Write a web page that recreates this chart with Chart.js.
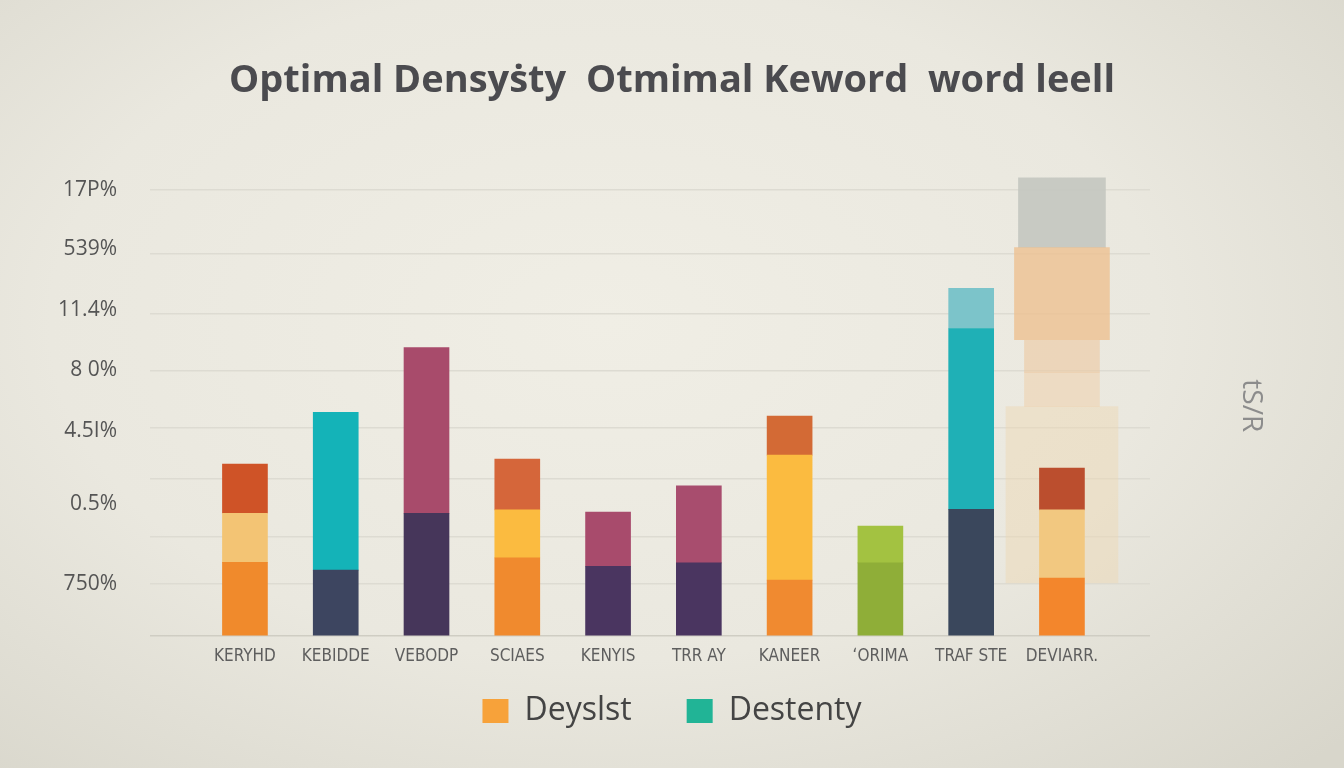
<!DOCTYPE html>
<html>
<head>
<meta charset="utf-8">
<script src="https://cdn.jsdelivr.net/npm/chart.js@4.4.1/dist/chart.umd.min.js"></script>
<style>
  html, body { margin: 0; padding: 0; }
  body {
    width: 1344px; height: 768px; overflow: hidden;
    background: radial-gradient(ellipse 75% 80% at 45% 42%, #f0eee5 0%, #eae8df 55%, #d8d6cb 100%);
  }
  #wrap { position: relative; width: 1344px; height: 768px; }
</style>
</head>
<body>
<div id="wrap"><canvas id="chart"></canvas></div>
<script>
// ── data ──
const CATEGORIES = ['KERYHD', 'KEBIDDE', 'VEBODP', 'SCIAES', 'KENYIS', 'TRR AY', 'KANEER', '\u02BBORIMA', 'TRAF STE', 'DEVIARR.'];
const SEG_BOTTOM = [1.32, 1.18, 2.20, 1.40, 1.25, 1.31, 1.00, 1.31, 2.27, 1.04];
const SEG_MIDDLE = [0.88, 2.83, 2.97, 0.86, 0.97, 1.38, 2.24, 0.66, 3.24, 1.22];
const SEG_TOP    = [0.88, null, null, 0.91, null, null, 0.70, null, 0.72, 0.75];
// faded blocks behind the last bar: [from, to]
const GHOST_RANGES = [[0.95, 4.11], [4.11, 4.72], [4.72, 5.31], [5.31, 6.96], [6.96, 8.21]];
const Y_TICK_VALUES = [8.0, 6.93, 5.85, 4.76, 3.67, 2.36, 0.93];
const Y_TICK_LABELS = ['17P%', '539%', '11.4%', '8 0%', '4.5I%', '0.5%', '750%'];
const GRID_VALUES = [0, 0.93, 1.77, 2.81, 3.74, 4.76, 5.78, 6.85, 8.0];
const LEGEND_LABELS = ['Deyslst', 'Destenty'];
const TITLE = 'Optimal Densy\u1E61ty  Otmimal Keword  word leell';
const SIDE_LABEL = 'tS/R';

// ── styles ──
const COL_BOTTOM = ['#f08a2c', '#3d4560', '#46365a', '#f08a2e', '#4a3560', '#4a3560', '#f08a30', '#8fae38', '#3a475c', '#f3862c'];
const COL_MIDDLE = ['#f3c474', '#14b3b8', '#a84b6b', '#fbbb40', '#a84b6c', '#a84d6e', '#fbbb40', '#a3c241', '#1fb0b6', '#f2c880'];
const COL_TOP    = ['#cf5327', null, null, '#d5663a', null, null, '#d36a35', null, '#7cc4ca', '#bb4e2e'];
const GHOST_COLORS = ['rgba(238,214,178,0.45)', 'rgba(238,208,172,0.55)', 'rgba(236,200,160,0.6)', 'rgba(238,192,145,0.8)', 'rgba(196,198,192,0.9)'];
const GHOST_WIDTHS = [112, 75, 75, 95, 87];
const LEGEND_COLORS = ['#f7a23a', '#21b496'];

const X_MIN = -1.046, X_MAX = 9.97, Y_MAX = 8.25;

const toPoints = arr => arr.map((v, i) => ({ x: i, y: v }));

const mainSets = [SEG_BOTTOM, SEG_MIDDLE, SEG_TOP].map((vals, k) => ({
  label: 'seg' + k,
  data: toPoints(vals),
  backgroundColor: [COL_BOTTOM, COL_MIDDLE, COL_TOP][k],
  barThickness: 45,
  grouped: false,
  xAxisID: 'x', yAxisID: 'y',
  order: 1
}));

const ghostSets = GHOST_RANGES.map((r, k) => ({
  label: 'ghost' + k,
  data: [{ x: CATEGORIES.length - 1, y: r }],
  backgroundColor: GHOST_COLORS[k],
  barThickness: GHOST_WIDTHS[k],
  grouped: false,
  xAxisID: 'x2', yAxisID: 'y2',
  order: 5
}));

new Chart(document.getElementById('chart'), {
  type: 'bar',
  data: { datasets: [...mainSets, ...ghostSets] },
  options: {
    responsive: true,
    maintainAspectRatio: false,
    animation: false,
    layout: { padding: { left: 0, right: 0, top: 0, bottom: 31 } },
    plugins: {
      tooltip: { enabled: false },
      title: {
        display: true, text: TITLE, color: '#4b4b4f',
        font: { family: 'Open Sans', size: 38, weight: 'bold' },
        padding: { top: 58, bottom: 72 }
      },
      legend: {
        position: 'bottom',
        labels: {
          boxWidth: 26, boxHeight: 24, padding: 55, color: '#444',
          font: { family: 'Open Sans', size: 32 },
          useBorderRadius: true, borderRadius: 3,
          generateLabels: () => LEGEND_LABELS.map((t, i) => ({
            text: t, fillStyle: LEGEND_COLORS[i], strokeStyle: LEGEND_COLORS[i],
            lineWidth: 0, hidden: false, datasetIndex: i, fontColor: '#444'
          }))
        }
      }
    },
    scales: {
      x: {
        type: 'linear', min: X_MIN, max: X_MAX, stacked: true, offset: false,
        grid: { display: false, drawTicks: false }, border: { display: false },
        afterBuildTicks: s => { s.ticks = CATEGORIES.map((_, i) => ({ value: i })); },
        afterFit: s => { s.height = 4; },
        ticks: {
          autoSkip: false, maxRotation: 0, mirror: true, padding: -31, color: '#5e5e5e',
          font: { family: "'Liberation Sans Narrow', 'DejaVu Sans Condensed', sans-serif", size: 17 },
          callback: v => CATEGORIES[v]
        }
      },
      x2: { type: 'linear', display: false, offset: false, min: X_MIN, max: X_MAX },
      y: {
        stacked: true, min: 0, max: Y_MAX, position: 'left',
        ticks: { display: false }, border: { display: false },
        grid: { color: ctx => ctx.tick && ctx.tick.value === 0 ? '#cfcdc3' : '#dddbd2', lineWidth: 1.5, drawTicks: false },
        afterBuildTicks: s => { s.ticks = GRID_VALUES.map(v => ({ value: v })); },
        afterFit: s => { s.width = 0; }
      },
      y2: { display: false, min: 0, max: Y_MAX },
      yL: {
        position: 'left', min: 0, max: Y_MAX,
        grid: { display: false, drawTicks: false }, border: { display: false },
        afterBuildTicks: s => { s.ticks = Y_TICK_VALUES.map(v => ({ value: v })); },
        ticks: {
          padding: 33, color: '#555',
          font: { family: 'Open Sans', size: 21 },
          callback: (v, i) => Y_TICK_LABELS[i]
        },
        afterFit: s => { s.width = 150; }
      },
      yR: {
        position: 'right',
        grid: { display: false, drawTicks: false }, border: { display: false },
        ticks: { display: false },
        title: {
          display: true, text: SIDE_LABEL, color: '#8c8c8c',
          font: { family: 'Open Sans', size: 28 },
          padding: { top: 76, bottom: 0 }
        },
        afterFit: s => { s.width = 194; }
      }
    }
  }
});
</script>
</body>
</html>
